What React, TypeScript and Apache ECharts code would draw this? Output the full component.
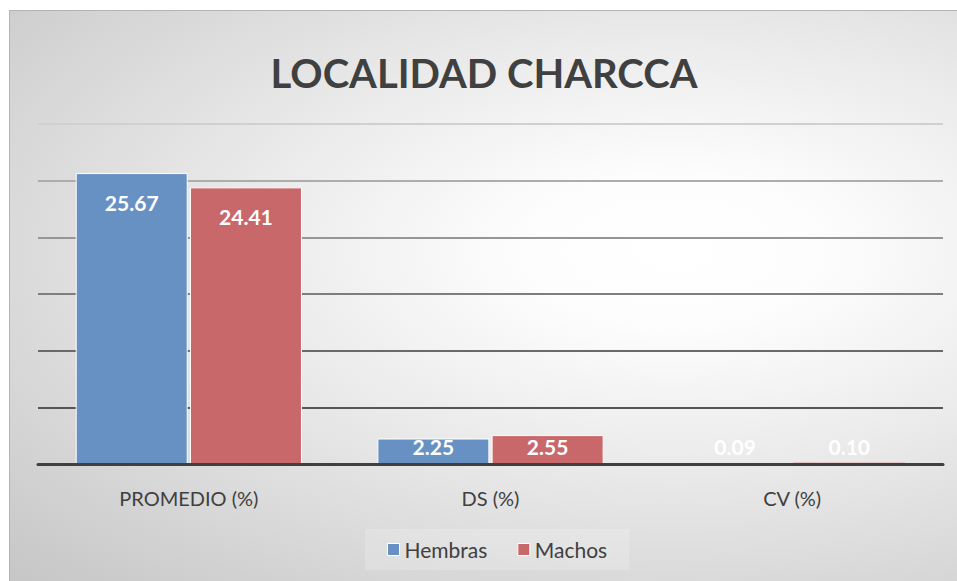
import React, { useEffect, useRef } from "react";
import * as echarts from "echarts";

const title = "LOCALIDAD CHARCCA";
const categories = ["PROMEDIO (%)", "DS (%)", "CV (%)"];
const seriesNames = ["Hembras", "Machos"];
const hembras = [25.67, 2.25, 0.09];
const machos = [24.41, 2.55, 0.1];
const colors = ["#6891C3", "#C9686A"];
const gridColors = ["#404040", "#555555", "#6a6a6a", "#7e7e7e", "#969696", "#adadad", "#d0d0d0"];

const FONT = "Lato, 'Open Sans', sans-serif";

function buildData(values: number[]) {
  return values.map((v) =>
    v < 5
      ? {
          value: v,
          label: { position: "insideBottom", distance: 7 },
          itemStyle: v < 1 ? { borderWidth: 0 } : {},
        }
      : { value: v }
  );
}

export default function App() {
  const ref = useRef<HTMLDivElement>(null);
  useEffect(() => {
    if (!ref.current) return;
    const chart = echarts.init(ref.current, null, { renderer: "svg" });
    const label = {
      show: true,
      position: "insideTop",
      distance: 19,
      color: "#ffffff",
      fontFamily: FONT,
      fontWeight: "bold",
      fontSize: 21,
      formatter: (p: any) => Number(p.value).toFixed(2),
    };
    chart.setOption({
      animation: false,
      backgroundColor: "transparent",
      title: {
        text: title,
        left: "center",
        top: 37,
        textStyle: { fontFamily: FONT, fontWeight: "bold", fontSize: 40, color: "#404040" },
      },
      legend: {
        data: seriesNames,
        bottom: 12,
        left: 355,
        icon: "rect",
        itemWidth: 12,
        itemHeight: 12,
        itemGap: 30,
        padding: [10, 22],
        backgroundColor: "rgba(255,255,255,0.18)",
        itemStyle: { borderColor: "#ffffff", borderWidth: 1 },
        textStyle: { fontFamily: FONT, fontSize: 21, color: "#404040" },
      },
      grid: { left: 28, right: 15, top: 113, bottom: 118 },
      xAxis: {
        type: "category",
        data: categories,
        z: 5,
        axisLine: { lineStyle: { color: "#404040", width: 3 } },
        axisTick: { show: false },
        axisLabel: { color: "#404040", fontFamily: FONT, fontSize: 20, margin: 24 },
      },
      yAxis: {
        type: "value",
        min: 0,
        max: 30,
        interval: 5,
        axisLabel: { show: false },
        axisLine: { show: false },
        axisTick: { show: false },
        splitLine: { show: true, showMinLine: true, lineStyle: { color: gridColors, width: 2 } },
      },
      series: [
        {
          name: seriesNames[0],
          type: "bar",
          data: buildData(hembras),
          barGap: "2%",
          barCategoryGap: "25%",
          itemStyle: { color: colors[0], borderColor: "#ffffff", borderWidth: 1 },
          label,
        },
        {
          name: seriesNames[1],
          type: "bar",
          data: buildData(machos),
          barGap: "2%",
          barCategoryGap: "25%",
          itemStyle: { color: colors[1], borderColor: "#ffffff", borderWidth: 1 },
          label,
        },
      ],
    });
    return () => chart.dispose();
  }, []);

  return (
    <div style={{ position: "fixed", left: 0, top: 0, width: 957, height: 581, background: "#ffffff" }}>
      <div
        style={{
          position: "absolute",
          left: 9,
          top: 10,
          width: 948,
          height: 571,
          boxSizing: "border-box",
          borderTop: "1px solid #b4b4b4",
          borderLeft: "1px solid #b4b4b4",
          background:
            "radial-gradient(ellipse farthest-corner at 70% 42%, #ffffff 0%, #fdfdfd 16%, #ebebeb 45%, #c6c6c6 100%)",
        }}
      >
        <div ref={ref} style={{ position: "absolute", left: 0, top: 0, width: 948, height: 571 }} />
      </div>
    </div>
  );
}
